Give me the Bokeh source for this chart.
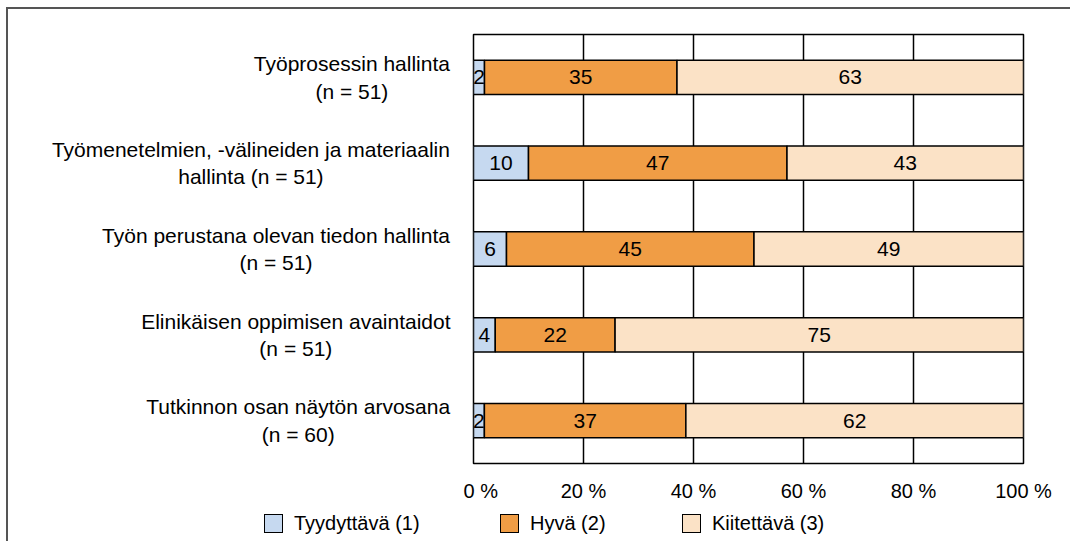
from bokeh.plotting import figure
from bokeh.layouts import column, row
from bokeh.models import (ColumnDataSource, FactorRange, Range1d, FixedTicker,
                          CustomJSTickFormatter, Div)
from bokeh.core.properties import value
from bokeh.embed import file_html
from bokeh.resources import INLINE

categories = [
    "Työprosessin hallinta\n(n = 51)",
    "Työmenetelmien, -välineiden ja materiaalin\nhallinta (n = 51)",
    "Työn perustana olevan tiedon hallinta\n(n = 51)",
    "Elinikäisen oppimisen avaintaidot\n(n = 51)",
    "Tutkinnon osan näytön arvosana\n(n = 60)",
]
tyydyttava = [2, 10, 6, 4, 2]
hyva = [35, 47, 45, 22, 37]
kiitettava = [63, 43, 49, 75, 62]
series_names = ["Tyydyttävä (1)", "Hyvä (2)", "Kiitettävä (3)"]
x_ticks = [0, 20, 40, 60, 80, 100]

colors = ["#C6D9F0", "#F09D45", "#FBE2C6"]
FONT = "Liberation Sans"
CAT_SIZE = 21
H = 496
TOP, BOTTOM = 25, 42
LABEL_W = 455

series = [tyydyttava, hyva, kiitettava]
totals = [sum(v) for v in zip(*series)]
norm = [[v / t * 100 for v, t in zip(s, totals)] for s in series]

src = ColumnDataSource(dict(cat=categories, s0=norm[0], s1=norm[1], s2=norm[2]))

p = figure(
    width=607, height=H,
    y_range=FactorRange(factors=categories[::-1]),
    x_range=(0, 100),
    output_backend="svg", toolbar_location=None,
    min_border_left=10, min_border_right=47, min_border_top=TOP, min_border_bottom=BOTTOM,
)

p.hbar_stack(["s0", "s1", "s2"], y="cat", height=0.4, color=colors,
             line_color="black", line_width=1.5, source=src)

# data labels centred in each segment
lx, ly, lt = [], [], []
for i, cat in enumerate(categories):
    left = 0.0
    for k in range(3):
        w = norm[k][i]
        lx.append(left + w / 2)
        ly.append(cat)
        lt.append(str(series[k][i]))
        left += w
lsrc = ColumnDataSource(dict(x=lx, y=ly, t=lt))
p.text(x="x", y="y", text="t", source=lsrc, text_align="center", text_baseline="middle",
       text_font=value(FONT), text_font_size="21px", text_color="black")

p.xgrid.ticker = FixedTicker(ticks=[20, 40, 60, 80])
p.xgrid.grid_line_color = "black"
p.xgrid.grid_line_width = 1.5
p.ygrid.grid_line_color = None
p.outline_line_color = "black"
p.outline_line_width = 1.5

xa = p.xaxis[0]
xa.ticker = FixedTicker(ticks=x_ticks)
xa.formatter = CustomJSTickFormatter(code="return tick + ' %';")
xa.axis_line_color = None
xa.major_tick_line_color = None
xa.minor_tick_line_color = None
xa.major_tick_out = 0
xa.major_tick_in = 0
xa.major_label_standoff = 16
xa.major_label_text_font = FONT
xa.major_label_text_font_size = "20px"
xa.major_label_text_color = "black"
p.yaxis.visible = False

# category labels: blocks right-aligned beside the plot, lines centred within each block
ARIAL = {" ": 278, "(": 333, ")": 333, ",": 278, "-": 333, "=": 584, "E": 667, "T": 611,
         "i": 222, "j": 222, "l": 222, "k": 500, "m": 833, "r": 333, "s": 500, "t": 278,
         "v": 500, "y": 500}


def text_width(s, size):
    return sum(ARIAL.get(c, 556) for c in s) * size / 1000.0


RIGHT_EDGE = LABEL_W - 13
cx = [RIGHT_EDGE - max(text_width(l, CAT_SIZE) for l in c.split("\n")) / 2 for c in categories]

lf = figure(width=LABEL_W, height=H, x_range=Range1d(0, LABEL_W), y_range=p.y_range,
            x_axis_type=None, y_axis_type=None, output_backend="svg", toolbar_location=None,
            min_border_left=0, min_border_right=0, min_border_top=TOP, min_border_bottom=BOTTOM)
lf.outline_line_color = None
lf.xgrid.visible = False
lf.ygrid.visible = False
lf.text(x=cx, y=categories, text=categories, text_align="center", text_baseline="middle",
        text_line_height=1.2, text_font=value(FONT), text_font_size=f"{CAT_SIZE}px",
        text_color="black")

# legend row
lefts = [256, 492, 674]
items = "".join(
    f'<div style="position:absolute;left:{x}px;top:0;height:36px;display:flex;'
    f'align-items:center;white-space:nowrap;">'
    f'<span style="display:inline-block;width:19px;height:19px;background:{c};'
    f'border:1.5px solid #000;margin-right:11px;"></span><span>{n}</span></div>'
    for x, c, n in zip(lefts, colors, series_names))
legend_div = Div(
    text=f'<div style="position:relative;width:1062px;height:36px;font-family:\'Liberation Sans\';'
         f'font-size:20px;color:#000;">{items}</div>',
    width=1062, height=36, margin=0)

layout = column(row(lf, p, spacing=0), legend_div, spacing=0)
layout.styles = {"margin-left": "6px", "margin-top": "7px",
                 "border-left": "2px solid #555555", "border-top": "2px solid #555555"}

open("out.html", "w").write(file_html(layout, INLINE))
